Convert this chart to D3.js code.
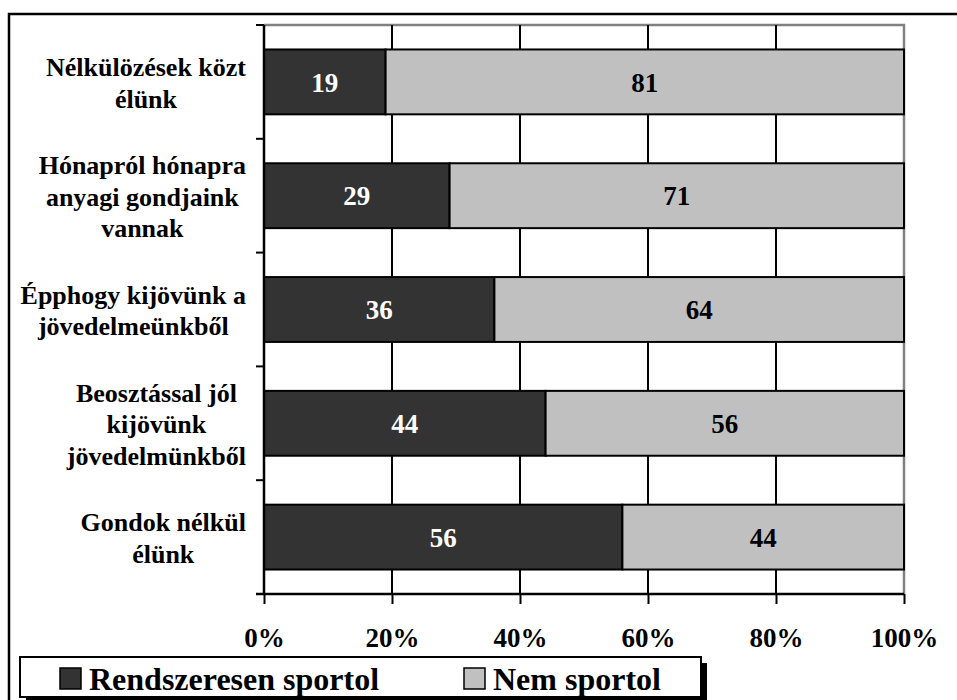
<!DOCTYPE html>
<html>
<head>
<meta charset="utf-8">
<script src="https://cdn.jsdelivr.net/npm/d3@7"></script>
<style>
  body { margin: 0; background: #fff; }
  svg { display: block; font-family: "Liberation Serif", "Times New Roman", serif; font-weight: bold; }
</style>
</head>
<body>
<svg id="chart" width="957" height="700"></svg>
<script>
// Income situation vs. sport participation (percent)
const categories = [
  ['Nélkülözések közt', 'élünk'],
  ['Hónapról hónapra', 'anyagi gondjaink', 'vannak'],
  ['Épphogy kijövünk a', 'jövedelmeünkből'],
  ['Beosztással jól', 'kijövünk', 'jövedelmünkből'],
  ['Gondok nélkül', 'élünk']
];
const sportol = [19, 29, 36, 44, 56];
const nemSportol = [81, 71, 64, 56, 44];
const seriesNames = ['Rendszeresen sportol', 'Nem sportol'];
const xTicks = [0, 20, 40, 60, 80, 100];

const colors = ['#333333', '#c0c0c0'];
const textColors = ['#ffffff', '#000000'];

const svg = d3.select('#chart');
const plot = { left: 264, right: 904, top: 25, bottom: 594 };

// outer frame (right edge runs off the page)
svg.append('rect')
  .attr('x', 9).attr('y', 14)
  .attr('width', 1000).attr('height', 800)
  .attr('fill', 'none').attr('stroke', '#000').attr('stroke-width', 2.5);

const x = d3.scaleLinear().domain([0, 100]).range([plot.left, plot.right]);
const y = d3.scaleBand()
  .domain(d3.range(categories.length))
  .range([plot.top, plot.bottom])
  .paddingInner(0.43).paddingOuter(0.215);

// plot area border (grey top and right)
svg.append('path')
  .attr('d', `M${plot.left},${plot.top}H${plot.right}V${plot.bottom}`)
  .attr('fill', 'none').attr('stroke', '#808080').attr('stroke-width', 2.5);

// vertical gridlines
svg.append('g')
  .selectAll('line')
  .data(xTicks.slice(1, -1))
  .join('line')
  .attr('x1', d => x(d)).attr('x2', d => x(d))
  .attr('y1', plot.top).attr('y2', plot.bottom)
  .attr('stroke', '#000').attr('stroke-width', 2);

// stacked bars
const segs = [];
categories.forEach((c, i) => {
  let acc = 0;
  [sportol[i], nemSportol[i]].forEach((v, s) => {
    segs.push({ i, s, x0: acc, x1: acc + v, v });
    acc += v;
  });
});

svg.append('g')
  .selectAll('rect')
  .data(segs)
  .join('rect')
  .attr('x', d => x(d.x0))
  .attr('y', d => y(d.i))
  .attr('width', d => x(d.x1) - x(d.x0))
  .attr('height', y.bandwidth())
  .attr('fill', d => colors[d.s])
  .attr('stroke', '#000').attr('stroke-width', 2);

svg.append('g')
  .selectAll('text')
  .data(segs)
  .join('text')
  .attr('x', d => (x(d.x0) + x(d.x1)) / 2)
  .attr('y', d => y(d.i) + y.bandwidth() / 2)
  .attr('dy', '0.36em')
  .attr('text-anchor', 'middle')
  .attr('font-size', 27)
  .attr('fill', d => textColors[d.s])
  .text(d => d.v);

// x axis
const xAxis = svg.append('g')
  .attr('transform', `translate(0,${plot.bottom})`)
  .call(d3.axisBottom(x).tickValues(xTicks).tickSize(10).tickPadding(24).tickFormat(d => d + '%'));
xAxis.select('.domain').attr('stroke', '#000').attr('stroke-width', 2.5).attr('d', `M${plot.left - 8},0H${plot.right}`);
xAxis.selectAll('.tick line').attr('stroke', '#000').attr('stroke-width', 2);
xAxis.selectAll('.tick text')
  .attr('font-size', 27).attr('font-family', '"Liberation Serif", serif').attr('font-weight', 'bold').attr('fill', '#000');

// y axis line and boundary ticks
const bounds = d3.range(categories.length + 1).map(i => plot.top + i * (plot.bottom - plot.top) / categories.length);
svg.append('line')
  .attr('x1', plot.left).attr('x2', plot.left)
  .attr('y1', plot.top).attr('y2', plot.bottom)
  .attr('stroke', '#000').attr('stroke-width', 2.5);
svg.append('g')
  .selectAll('line')
  .data(bounds)
  .join('line')
  .attr('x1', plot.left - 8).attr('x2', plot.left)
  .attr('y1', d => d).attr('y2', d => d)
  .attr('stroke', '#000').attr('stroke-width', 2);

// category labels: block right-aligned, lines centred inside the block
const lineH = 31.5;
const labelRight = 246;
svg.append('g')
  .selectAll('text')
  .data(categories)
  .join('text')
  .attr('text-anchor', 'middle')
  .attr('font-size', 26)
  .attr('fill', '#000')
  .each(function (lines, i) {
    const el = d3.select(this);
    const cy = y(i) + y.bandwidth() / 2;
    const start = cy - (lines.length - 1) * lineH / 2;
    const spans = el.selectAll('tspan')
      .data(lines)
      .join('tspan')
      .attr('y', (d, k) => start + k * lineH)
      .attr('dy', '0.38em')
      .text(d => d);
    const maxW = d3.max(spans.nodes(), n => n.getComputedTextLength());
    spans.attr('x', labelRight - maxW / 2);
  });

// legend with shadow
const lg = { x: 20, y: 657, w: 681, h: 40 };
svg.append('rect')
  .attr('x', lg.x + 6).attr('y', lg.y + 6).attr('width', lg.w).attr('height', lg.h)
  .attr('fill', '#000');
svg.append('rect')
  .attr('x', lg.x).attr('y', lg.y).attr('width', lg.w).attr('height', lg.h)
  .attr('fill', '#fff').attr('stroke', '#000').attr('stroke-width', 2);

const legendX = [60, 464];
const items = svg.append('g')
  .selectAll('g')
  .data(seriesNames)
  .join('g')
  .attr('transform', (d, i) => `translate(${legendX[i]},${lg.y})`);
items.append('rect')
  .attr('x', 0).attr('y', 11).attr('width', 21).attr('height', 21)
  .attr('fill', (d, i) => colors[i]).attr('stroke', '#000').attr('stroke-width', 1.5);
items.append('text')
  .attr('x', 29).attr('y', 33)
  .attr('font-size', 32)
  .attr('fill', '#000')
  .text(d => d);
</script>
</body>
</html>
